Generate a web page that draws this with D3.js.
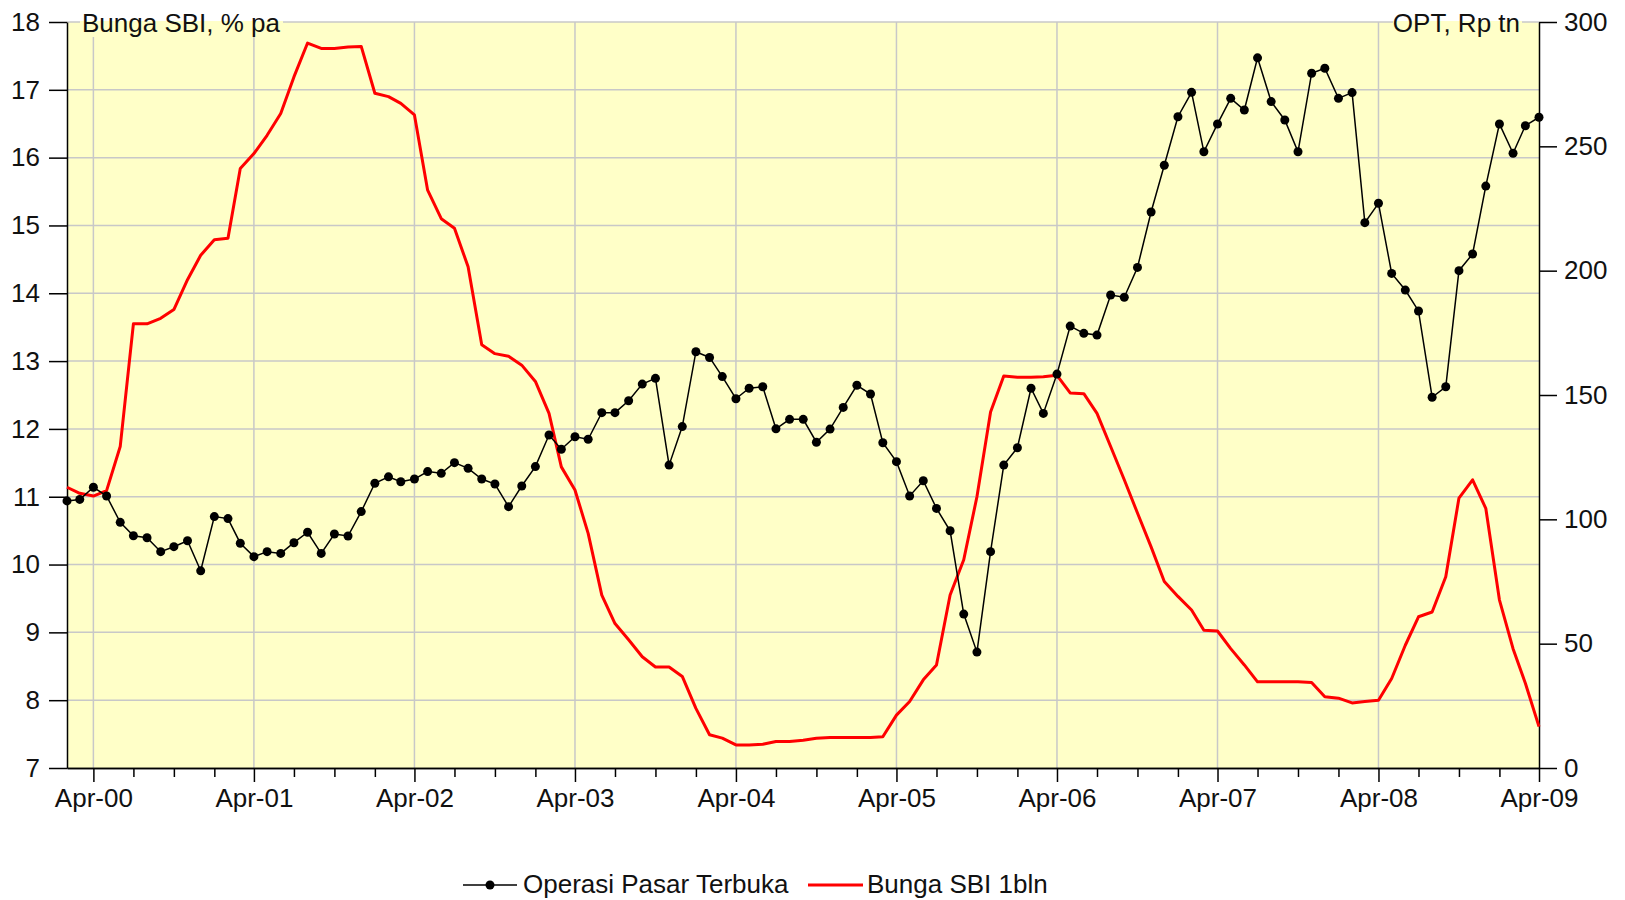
<!DOCTYPE html>
<html>
<head>
<meta charset="utf-8">
<script src="https://cdn.jsdelivr.net/npm/d3@7"></script>
<style>
  body { margin: 0; background: #fff; }
  svg { display: block; font-family: "Liberation Sans", Arial, sans-serif; }
</style>
</head>
<body>
<svg id="chart" width="1625" height="900"></svg>
<script>
// monthly observations, Feb-2000 .. Apr-2009
var startYear = 2000, startMonth = 1; // Feb 2000 (0-based month)

// Operasi Pasar Terbuka, Rp tn (right axis)
var opt = [107.4, 108.0, 112.9, 109.4, 98.8, 93.4, 92.6, 87.0, 89.0, 91.4,
           79.3, 101.1, 100.3, 90.4, 85.0, 87.0, 86.3, 90.6, 94.8, 86.3,
           94.1, 93.3, 103.1, 114.5, 117.1, 115.1, 116.2, 119.2, 118.5, 122.8,
           120.5, 116.2, 114.2, 105.1, 113.4, 121.2, 133.9, 128.2, 133.2, 132.2,
           142.9, 142.9, 147.7, 154.4, 156.7, 121.8, 137.3, 167.4, 165.1, 157.4,
           148.5, 152.7, 153.3, 136.4, 140.2, 140.2, 131.0, 136.3, 145.0, 153.9,
           150.4, 130.8, 123.2, 109.4, 115.5, 104.4, 95.4, 61.9, 46.6, 87.0,
           121.8, 128.8, 152.7, 142.6, 158.4, 177.7, 174.8, 174.1, 190.2, 189.3,
           201.3, 223.6, 242.4, 261.9, 271.7, 247.8, 259.0, 269.3, 264.6, 285.6,
           268.0, 260.6, 247.8, 279.4, 281.4, 269.3, 271.6, 219.3, 227.1, 198.9,
           192.2, 183.8, 149.1, 153.3, 200.0, 206.7, 234.0, 259.0, 247.2, 258.3,
           261.7];

// Bunga SBI 1 bulan, % pa (left axis)
var sbi = [11.14, 11.05, 11.01, 11.09, 11.74, 13.55, 13.55, 13.63, 13.76, 14.20,
           14.56, 14.79, 14.81, 15.84, 16.06, 16.33, 16.65, 17.19, 17.69, 17.61,
           17.61, 17.63, 17.64, 16.95, 16.90, 16.80, 16.63, 15.52, 15.10, 14.96,
           14.39, 13.24, 13.11, 13.07, 12.94, 12.70, 12.23, 11.44, 11.10, 10.46,
           9.55, 9.13, 8.89, 8.64, 8.49, 8.49, 8.35, 7.88, 7.49, 7.44,
           7.34, 7.34, 7.35, 7.39, 7.39, 7.41, 7.44, 7.45, 7.45, 7.45,
           7.45, 7.46, 7.78, 7.98, 8.30, 8.52, 9.55, 10.07, 11.00, 12.25,
           12.78, 12.76, 12.76, 12.77, 12.79, 12.53, 12.52, 12.23, 11.74, 11.25,
           10.76, 10.26, 9.75, 9.53, 9.33, 9.03, 9.02, 8.76, 8.52, 8.27,
           8.27, 8.27, 8.27, 8.26, 8.05, 8.03, 7.96, 7.98, 8.00, 8.32,
           8.81, 9.23, 9.30, 9.82, 10.98, 11.25, 10.83, 9.48, 8.76, 8.25,
           7.61];

var leftTicks = [7, 8, 9, 10, 11, 12, 13, 14, 15, 16, 17, 18];
var rightTicks = [0, 50, 100, 150, 200, 250, 300];
var yearTicks = [2000, 2001, 2002, 2003, 2004, 2005, 2006, 2007, 2008, 2009];

var leftTitle = "Bunga SBI, % pa";
var rightTitle = "OPT, Rp tn";
var seriesNames = ["Operasi Pasar Terbuka", "Bunga SBI 1bln"];

function monthDate(i) { return new Date(startYear, startMonth + i, 1); }

var plotL = 67, plotR = 1539, plotT = 22, plotB = 768;
var fs = 26;

var svg = d3.select("#chart");

var x = d3.scaleTime()
    .domain([monthDate(0), monthDate(opt.length - 1)])
    .range([plotL, plotR]);
var yL = d3.scaleLinear().domain([7, 18]).range([plotB, plotT]);
var yR = d3.scaleLinear().domain([0, 300]).range([plotB, plotT]);

var majorDates = yearTicks.map(function (y) { return new Date(y, 3, 1); });
var minorDates = d3.timeMonth.every(3).range(x.domain()[0], x.domain()[1])
    .filter(function (d) { return d.getMonth() != 3; });

// plot background
svg.append("rect")
    .attr("x", plotL).attr("y", plotT)
    .attr("width", plotR - plotL).attr("height", plotB - plotT)
    .attr("fill", "#ffffc8");

// grid
var grid = svg.append("g").attr("stroke", "#c8c8c8").attr("stroke-width", 1.5);
grid.selectAll("line.h")
    .data(leftTicks.slice(1))
    .enter().append("line")
    .attr("x1", plotL).attr("x2", plotR)
    .attr("y1", function (d) { return yL(d); })
    .attr("y2", function (d) { return yL(d); });
grid.selectAll("line.v")
    .data(majorDates.slice(0, -1))
    .enter().append("line")
    .attr("y1", plotT).attr("y2", plotB)
    .attr("x1", function (d) { return x(d); })
    .attr("x2", function (d) { return x(d); });

// title boxes cover the grid
svg.append("rect").attr("x", 80).attr("y", plotT - 1).attr("width", 203).attr("height", 16).attr("fill", "#ffffc8");
svg.append("rect").attr("x", 1393).attr("y", plotT - 1).attr("width", 129).attr("height", 16).attr("fill", "#ffffc8");

function styleAxis(g) {
    g.attr("font-size", fs).attr("font-family", "'Liberation Sans', Arial, sans-serif");
    g.selectAll("text").attr("fill", "#111");
    g.selectAll("line, path").attr("stroke", "#000").attr("stroke-width", 1.5);
}

// left axis
svg.append("g")
    .attr("transform", "translate(" + plotL + ",0)")
    .call(d3.axisLeft(yL).tickValues(leftTicks).tickSize(18).tickPadding(9).tickSizeOuter(0))
    .call(styleAxis);

// right axis
svg.append("g")
    .attr("transform", "translate(" + plotR + ",0)")
    .call(d3.axisRight(yR).tickValues(rightTicks).tickSize(18).tickPadding(7).tickSizeOuter(0))
    .call(styleAxis);

// bottom axis, yearly labels + quarterly minor ticks
svg.append("g")
    .attr("transform", "translate(0," + plotB + ")")
    .call(d3.axisBottom(x).tickValues(minorDates).tickSize(9).tickFormat("").tickSizeOuter(0))
    .call(styleAxis);
svg.append("g")
    .attr("transform", "translate(0," + plotB + ")")
    .call(d3.axisBottom(x).tickValues(majorDates).tickSize(14).tickPadding(7)
        .tickFormat(d3.timeFormat("%b-%y")).tickSizeOuter(0))
    .call(styleAxis);

// axis titles
svg.append("text").attr("x", 82).attr("y", 32).attr("font-size", fs).attr("fill", "#111").text(leftTitle);
svg.append("text").attr("x", 1520).attr("y", 32).attr("text-anchor", "end")
    .attr("font-size", fs).attr("fill", "#111").text(rightTitle);

// SBI line
var sbiLine = d3.line()
    .x(function (d, i) { return x(monthDate(i)); })
    .y(function (d) { return yL(d); });
svg.append("path")
    .datum(sbi)
    .attr("d", sbiLine)
    .attr("fill", "none")
    .attr("stroke", "#ff0000")
    .attr("stroke-width", 3)
    .attr("stroke-linejoin", "round");

// OPT line + dots
var optLine = d3.line()
    .x(function (d, i) { return x(monthDate(i)); })
    .y(function (d) { return yR(d); });
svg.append("path")
    .datum(opt)
    .attr("d", optLine)
    .attr("fill", "none")
    .attr("stroke", "#000")
    .attr("stroke-width", 1.5);
svg.append("g").selectAll("circle")
    .data(opt)
    .enter().append("circle")
    .attr("cx", function (d, i) { return x(monthDate(i)); })
    .attr("cy", function (d) { return yR(d); })
    .attr("r", 4.5)
    .attr("fill", "#000");

// legend
var lg = svg.append("g");
lg.append("line").attr("x1", 463).attr("x2", 517).attr("y1", 885).attr("y2", 885)
    .attr("stroke", "#000").attr("stroke-width", 1.5);
lg.append("circle").attr("cx", 490).attr("cy", 885).attr("r", 4.5).attr("fill", "#000");
lg.append("text").attr("x", 523).attr("y", 893).attr("font-size", fs).attr("fill", "#111").text(seriesNames[0]);
lg.append("line").attr("x1", 808).attr("x2", 863).attr("y1", 885).attr("y2", 885)
    .attr("stroke", "#ff0000").attr("stroke-width", 3);
lg.append("text").attr("x", 867).attr("y", 893).attr("font-size", fs).attr("fill", "#111").text(seriesNames[1]);
</script>
</body>
</html>
